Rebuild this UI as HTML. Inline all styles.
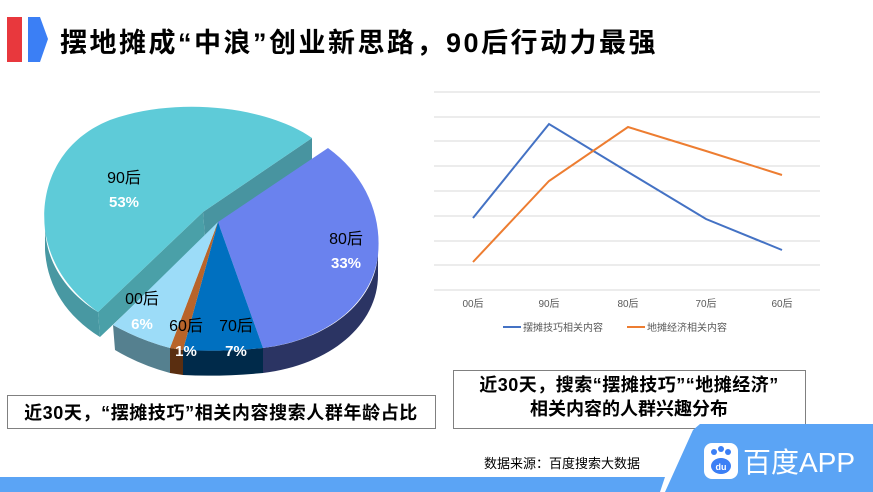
<!DOCTYPE html>
<html><head><meta charset="utf-8"><style>
body{margin:0;width:873px;height:492px;background:#fff;overflow:hidden;font-family:"Liberation Sans","Noto Sans CJK SC",sans-serif;}
</style></head><body>
<svg width="873" height="492" viewBox="0 0 873 492" xmlns="http://www.w3.org/2000/svg" style="position:absolute;left:0;top:0">
<rect x="7" y="17" width="15" height="45" fill="#e8383d"/>
<polygon points="28,17 40,17 48,39 40,62 28,62" fill="#3b7ff5"/>
<text x="60" y="52" font-size="27" font-weight="bold" letter-spacing="2.5" fill="#000">摆地摊成“中浪”创业新思路，90后行动力最强</text>

<!-- pie sides -->
<path d="M378,250 C378,300 330,340 263,348 L263,373 C330,365 378,325 378,275 Z" fill="#2b3463"/>
<path d="M183,350 Q220,352 263,348 L263,373 Q220,377 183,375 Z" fill="#002a4a"/>
<path d="M170,348 L183,350 L183,375 L170,373 Z" fill="#5a2e10"/>
<path d="M113,325 Q140,340 170,348 L170,373 Q140,365 115,350 Z" fill="#55808f"/>
<path d="M45,225 C45,260 65,292 98,312 L100,337 C65,315 47,285 45,250 Z" fill="#4898a2"/>
<path d="M203,212 L98,312 L100,337 L205,237 Z" fill="#4aa0a8"/>
<path d="M203,212 L312,138 L312,163 L205,237 Z" fill="#4894a0"/>
<!-- pie tops -->
<path d="M218,222 L328,148 C365,175 382,215 378,255 C372,305 325,340 263,348 Z" fill="#6a82ee"/>
<path d="M218,222 L263,348 Q220,352 183,350 Z" fill="#0070c0"/>
<path d="M218,222 L183,350 L170,348 Z" fill="#b8642a"/>
<path d="M218,222 L170,348 Q140,340 113,325 Z" fill="#9cdcf8"/>
<path d="M203,212 L312,138 C270,108 180,95 110,120 C60,140 40,185 45,230 C50,265 70,292 98,312 Z" fill="#5ecbd8"/>
<g font-size="16" text-anchor="middle">
<text x="124" y="183" fill="#000">90后</text><text x="124" y="207" fill="#fff" font-weight="bold" font-size="15">53%</text>
<text x="346" y="244" fill="#000">80后</text><text x="346" y="268" fill="#fff" font-weight="bold" font-size="15">33%</text>
<text x="142" y="304" fill="#000">00后</text><text x="142" y="329" fill="#fff" font-weight="bold" font-size="15">6%</text>
<text x="186" y="331" fill="#000">60后</text><text x="186" y="356" fill="#fff" font-weight="bold" font-size="15">1%</text>
<text x="236" y="331" fill="#000">70后</text><text x="236" y="356" fill="#fff" font-weight="bold" font-size="15">7%</text>
</g>

<!-- line chart -->
<g stroke="#d9d9d9" stroke-width="1">
<line x1="434" y1="92" x2="820" y2="92"/><line x1="434" y1="117" x2="820" y2="117"/><line x1="434" y1="141" x2="820" y2="141"/><line x1="434" y1="166" x2="820" y2="166"/><line x1="434" y1="191" x2="820" y2="191"/><line x1="434" y1="216" x2="820" y2="216"/><line x1="434" y1="241" x2="820" y2="241"/><line x1="434" y1="265" x2="820" y2="265"/><line x1="434" y1="290" x2="820" y2="290"/>
</g>
<polyline points="473,218 549,124 628,172 706,219 782,250" fill="none" stroke="#4472c4" stroke-width="2"/>
<polyline points="473,262 549,181 628,127 706,151 782,175" fill="none" stroke="#ed7d31" stroke-width="2"/>
<g font-size="10" fill="#595959" text-anchor="middle">
<text x="473" y="307">00后</text><text x="549" y="307">90后</text><text x="628" y="307">80后</text><text x="706" y="307">70后</text><text x="782" y="307">60后</text>
</g>
<line x1="503" y1="327" x2="521" y2="327" stroke="#4472c4" stroke-width="2"/>
<text x="523" y="331" font-size="10" fill="#595959">摆摊技巧相关内容</text>
<line x1="627" y1="327" x2="645" y2="327" stroke="#ed7d31" stroke-width="2"/>
<text x="647" y="331" font-size="10" fill="#595959">地摊经济相关内容</text>

<!-- boxes -->
<rect x="7.5" y="395.5" width="428" height="33" fill="#fff" stroke="#808080"/>
<text x="221" y="419" font-size="18" font-weight="bold" letter-spacing="0.6" text-anchor="middle">近30天，“摆摊技巧”相关内容搜索人群年龄占比</text>
<rect x="453.5" y="370.5" width="352" height="58" fill="#fff" stroke="#808080"/>
<text x="629" y="391" font-size="18" font-weight="bold" letter-spacing="0.5" text-anchor="middle">近30天，搜索“摆摊技巧”“地摊经济”</text>
<text x="629" y="415" font-size="18" font-weight="bold" text-anchor="middle">相关内容的人群兴趣分布</text>
<text x="484" y="468" font-size="13" fill="#000">数据来源：百度搜索大数据</text>

<!-- footer -->
<polygon points="0,477 665,477 660,492 0,492" fill="#5ba4f5"/>
<polygon points="700,424 873,424 873,492 665,492 693,430" fill="#5ba4f5"/>
<rect x="704" y="443" width="34" height="36" rx="8" fill="#fff"/>
<circle cx="714" cy="452" r="3" fill="#3b7ff5"/><circle cx="721" cy="449" r="3" fill="#3b7ff5"/><circle cx="728" cy="452" r="3" fill="#3b7ff5"/>
<ellipse cx="721" cy="466" rx="10" ry="8" fill="#3b7ff5"/>
<text x="721" y="470" font-size="9" fill="#fff" text-anchor="middle" font-weight="bold">du</text>
<text x="743" y="472" font-size="28" fill="#fff">百度APP</text>
</svg>
</body></html>
